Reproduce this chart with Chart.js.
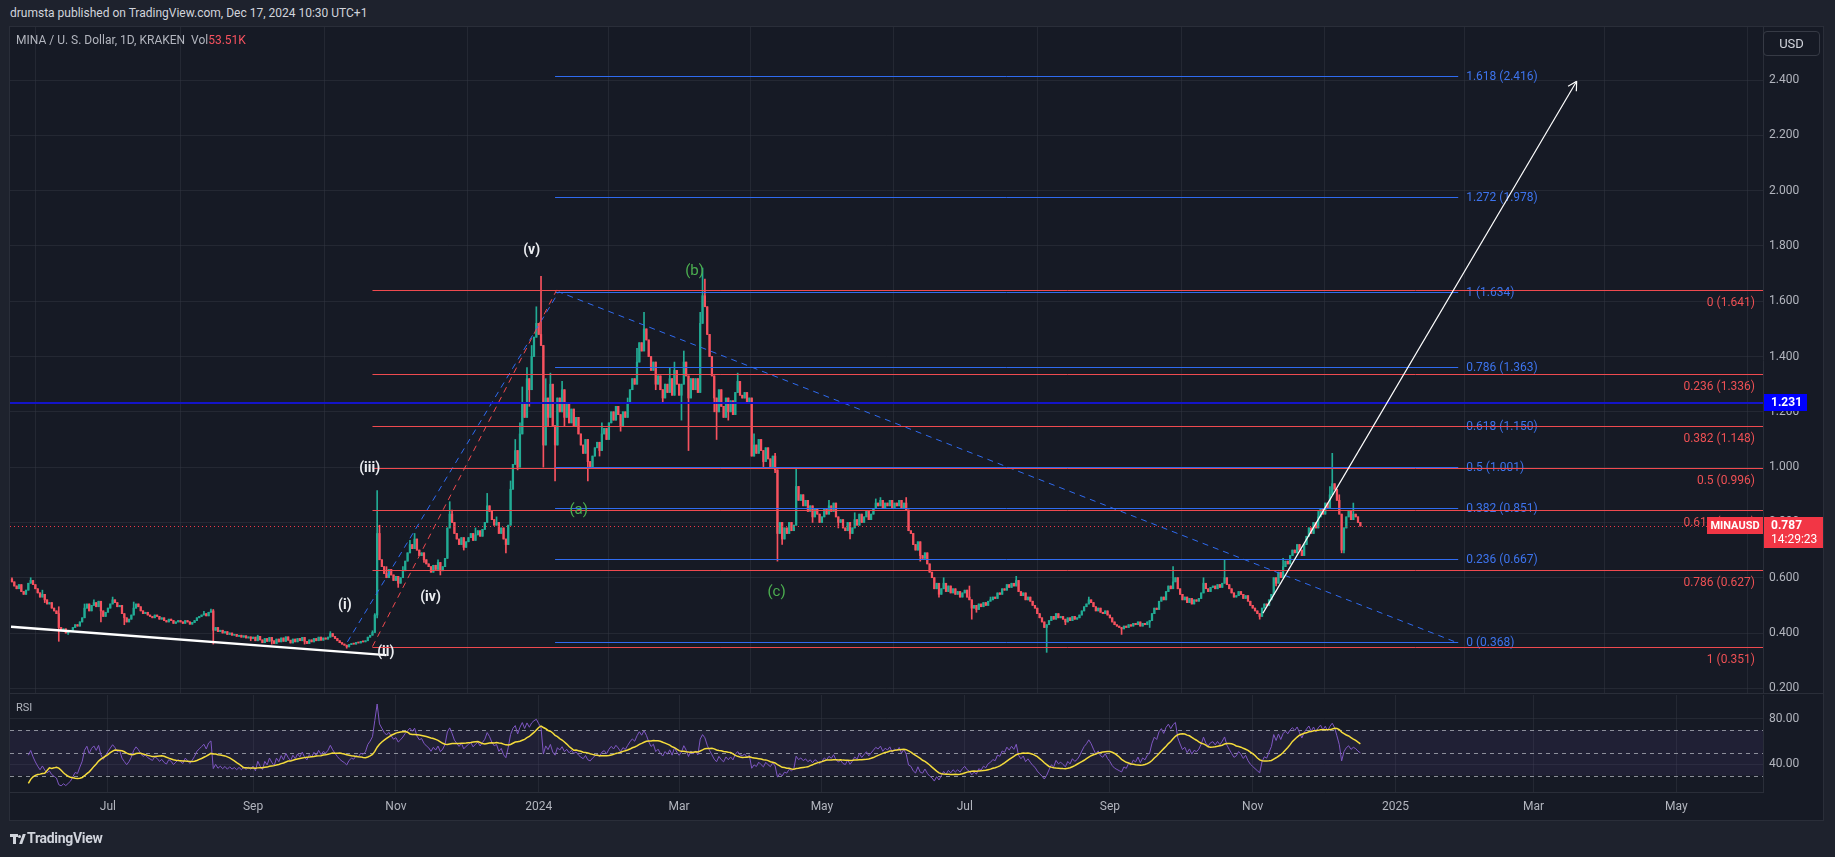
<!DOCTYPE html>
<html>
<head>
<meta charset="utf-8">
<title>MINAUSD</title>
<script src="https://cdn.jsdelivr.net/npm/chart.js@4.4.1/dist/chart.umd.min.js"></script>
<style>
  html, body { margin: 0; padding: 0; }
  body { width: 1835px; height: 857px; background: #1e222d; position: relative; overflow: hidden;
         font-family: Roboto, "Liberation Sans", Arial, sans-serif; }
  .abs { position: absolute; white-space: nowrap; }
  #frame { left: 9px; top: 26px; width: 1813px; height: 793px; border: 1px solid #2a2e39; background: #161a25; }
  #sep { left: 10px; top: 693px; width: 1813px; height: 1px; background: #2a2e39; }
  #hdr { left: 10px; top: 6px; font-size: 12px; color: #d1d4dc; }
  #legend { left: 16px; top: 33px; font-size: 12px; color: #b2b5be; }
  #legend .v { color: #f7525f; }
  #rsiLbl { left: 16px; top: 701px; font-size: 11px; color: #b2b5be; }
  #usd { left: 1763px; top: 31px; width: 57px; height: 25px; box-sizing: border-box; border: 1px solid #363a45;
         border-radius: 4px; color: #d1d4dc; font-size: 13px; text-align: center; line-height: 23px; }
  #logo { left: 27px; top: 830px; font-size: 14px; font-weight: bold; color: #d1d4dc; letter-spacing: -0.3px; }
  .lg { position: absolute; background: #d1d4dc; }
  canvas { position: absolute; }
</style>
</head>
<body>
<div id="frame" class="abs"></div>
<div id="hdr" class="abs">drumsta published on TradingView.com, Dec 17, 2024 10:30 UTC+1</div>
<canvas id="mainChart" width="1813" height="666" style="left:10px;top:27px;width:1813px;height:666px"></canvas>
<div id="sep" class="abs"></div>
<canvas id="rsiChart" width="1813" height="126" style="left:10px;top:694px;width:1813px;height:126px"></canvas>
<div id="legend" class="abs">MINA / U. S. Dollar, 1D, KRAKEN&nbsp;&nbsp;Vol<span class="v">53.51K</span></div>
<div id="rsiLbl" class="abs">RSI</div>
<div id="usd" class="abs">USD</div>
<div class="lg" style="left:10px;top:834px;width:8px;height:3px"></div>
<div class="lg" style="left:13px;top:834px;width:3px;height:10px"></div>
<div class="lg" style="left:18px;top:835px;width:3px;height:3px;border-radius:2px"></div>
<div class="lg" style="left:21px;top:834px;width:3px;height:10px;transform:skewX(-20deg)"></div>
<div id="logo" class="abs">TradingView</div>

<script>
// ---- daily closes (USD x 1000), May 21 2023 .. Dec 17 2024 ----
const closeMay23 = [585,570,560,575,550,540,555,580,590,575,560];
const closeJun23 = [545,530,540,520,505,510,490,480,470,420,410,415,400,405,410,420,430,425,440,455,490,505,480,500,510,495,515,480,460,475];
const closeJul23 = [490,505,520,510,495,500,470,455,440,450,465,490,505,495,480,470,475,465,460,455,465,460,450,455,445,440,450,445,435,440,445];
const closeAug23 = [440,435,445,440,432,438,445,455,460,465,470,462,475,480,410,420,405,410,400,405,395,400,392,395,388,392,385,390,382,386,380];
const closeSep23 = [385,372,388,375,365,380,370,384,372,362,378,368,382,370,386,374,364,378,368,380,372,384,370,362,375,368,380,372,385,374];
const closeOct23 = [382,378,385,398,388,380,372,365,360,356,350,358,362,360,366,364,370,368,372,385,392,402,465,760,665,640,615,600,630,610,590];
const closeNov23 = [605,580,600,625,660,690,720,705,740,700,680,690,665,650,640,620,645,630,655,625,640,670,780,830,800,760,740,720,745,710];
const closeDec23 = [730,745,760,735,755,770,750,775,800,860,840,810,790,800,760,780,740,720,790,920,1010,1060,1000,1120,1230,1180,1320,1280,1400,1470,1520];
const closeJan24 = [1480,1440,1080,1250,1180,1300,1150,1080,1250,1200,1280,1180,1230,1160,1210,1150,1180,1120,1080,1050,1100,1020,1000,1040,1070,1090,1060,1120,1140,1100,1160];
const closeFeb24 = [1200,1170,1220,1190,1150,1200,1180,1230,1280,1320,1300,1380,1450,1420,1500,1460,1400,1350,1380,1300,1330,1280,1250,1300,1270,1320,1260,1350,1300];
const closeMar24 = [1260,1300,1380,1330,1250,1320,1280,1320,1270,1520,1620,1580,1480,1400,1330,1250,1200,1280,1220,1180,1250,1200,1240,1190,1270,1310,1260,1250,1270,1230,1250];
const closeApr24 = [1040,1080,1050,1100,1060,1020,1070,1030,1000,1040,990,760,800,740,780,760,800,770,790,930,880,900,860,880,840,860,820,850,830,800];
const closeMay24 = [820,850,830,860,840,870,820,800,810,780,770,800,760,780,810,790,830,800,820,840,810,830,850,870,860,880,850,870,860,880,850];
const closeJun24 = [870,860,880,850,870,845,770,760,720,700,730,680,670,690,650,620,600,560,580,540,560,580,550,570,545,560,540,550,530,545];
const closeJul24 = [555,530,520,490,500,485,505,495,510,500,515,520,530,525,545,540,560,555,575,565,580,570,590,550,535,545,520,530,515,500,490];
const closeAug24 = [470,455,440,420,430,445,460,450,470,455,460,450,440,455,445,460,450,455,465,480,495,505,520,510,495,480,490,475,470,480,465];
const closeSep24 = [455,440,430,425,420,415,425,420,430,425,435,430,440,425,435,430,440,445,470,490,485,515,530,520,550,570,560,585,600,560];
const closeOct24 = [540,520,530,510,525,505,520,515,525,545,580,560,550,565,570,560,575,565,580,600,575,560,545,530,535,550,540,525,535,515,500];
const closeNov24 = [490,480,470,460,490,505,500,520,540,600,580,620,600,640,660,650,680,700,690,720,700,680,720,750,780,760,800,780,820,850];
const closeDec24 = [830,870,850,900,940,920,880,830,700,780,820,840,810,830,820,800,787];
const firstOpen = 595;

// notable wicks: [day index, price x 1000]
const wickHighs = [[0,600],[8,600],[13,555],[20,495],[31,505],[35,520],[43,530],[47,500],[52,512],[82,478],[85,487],[86,485],
  [105,392],[136,405],[154,408],[155,470],[156,915],[157,790],[160,640],[167,640],[170,735],[172,760],[182,665],[187,875],
  [188,845],[198,780],[203,905],[207,820],[213,950],[215,1100],[217,1160],[218,1290],[220,1360],[222,1440],[224,1580],
  [226,1690],[228,1320],[230,1340],[235,1310],[252,1160],[263,1250],[267,1430],[270,1560],[272,1450],[281,1360],[283,1380],
  [287,1420],[294,1560],[295,1720],[296,1680],[310,1340],[317,1120],[326,1050],[335,995],[349,880],[360,835],[369,885],
  [371,890],[382,890],[398,600],[409,570],[418,530],[429,605],[460,530],[496,640],[509,600],[518,665],[543,670],[558,840],
  [563,930],[564,1050],[567,900],[573,870]];
const wickLows = [[14,510],[20,370],[24,395],[38,440],[48,430],[86,360],[102,372],[111,360],[125,360],[143,345],[156,455],
  [165,565],[176,655],[183,610],[193,700],[211,690],[216,990],[221,1220],[227,1000],[229,1150],[232,950],[236,1150],
  [246,950],[251,1040],[260,1130],[275,1280],[278,1230],[286,1170],[289,1060],[300,1200],[301,1100],[306,1170],[321,1000],
  [326,980],[327,660],[329,720],[342,800],[353,780],[358,740],[388,660],[396,530],[410,450],[412,475],[442,330],[450,430],
  [474,395],[486,420],[533,450],[540,570],[568,690],[569,690]];

// axes
const xMin = -0.84, xMax = 748;
const monthTicks = [41, 103, 164, 225, 285, 346, 407, 469, 530, 591, 650, 711];
const monthLabels = ['Jul', 'Sep', 'Nov', '2024', 'Mar', 'May', 'Jul', 'Sep', 'Nov', '2025', 'Mar', 'May'];
const priceMin = 0.183, priceMax = 2.592;
const priceTicks = [0.2, 0.4, 0.6, 0.8, 1.0, 1.2, 1.4, 1.6, 1.8, 2.0, 2.2, 2.4];
const rsiMin = 15.6, rsiMax = 100.7;
const rsiTicks = [40, 80];
const rsiUpper = 70, rsiMid = 50, rsiLower = 30;
const rsiFirstShown = 7;

// drawings
const redFibLevels = [0, 0.236, 0.382, 0.5, 0.618, 0.786, 1];
const redFibPrices = [1.641, 1.336, 1.148, 0.996, 0.844, 0.627, 0.351];
const redFibFrom = 154;
const blueFibLevels = [0, 0.236, 0.382, 0.5, 0.618, 0.786, 1, 1.272, 1.618];
const blueFibPrices = [0.368, 0.667, 0.851, 1.001, 1.150, 1.363, 1.634, 1.978, 2.416];
const blueFibSpan = [232, 617.8];
const blueSwing = [[143.3, 0.368], [233.6, 1.634], [616.5, 0.368]];
const redSwing = [[154, 0.351], [232.7, 1.641]];
const trendLine = [[-0.4, 0.423], [160, 0.320]];
const arrowLine = [[534.4, 0.472], [668.4, 2.396]];
const alertPrice = 1.231;
const lastPrice = 0.787;
const waveText = ['(i)', '(ii)', '(iii)', '(iv)', '(v)'];
const wavePos = [[142.2, 0.499], [159.7, 0.329], [152.8, 0.995], [178.8, 0.528], [222, 1.785]];
const abcText = ['(a)', '(b)', '(c)'];
const abcPos = [[242.1, 0.845], [291.6, 1.709], [326.6, 0.549]];

const UP = '#22ab94', DOWN = '#f7525f';
const RED = '#ef4a4f', BLUE = '#2f6bf0', BLUE_TXT = '#3d74ee', RED_TXT = '#ee5054';
const GRID = 'rgba(54,58,69,0.45)';
const FONT = 'Roboto, "Liberation Sans", Arial, sans-serif';

// build candles
const closes = [].concat(closeMay23, closeJun23, closeJul23, closeAug23, closeSep23, closeOct23, closeNov23, closeDec23,
  closeJan24, closeFeb24, closeMar24, closeApr24, closeMay24, closeJun24, closeJul24, closeAug24, closeSep24, closeOct24,
  closeNov24, closeDec24).map(v => v / 1000);
const hiMap = {}, loMap = {};
wickHighs.forEach(([i, v]) => { hiMap[i] = v / 1000; });
wickLows.forEach(([i, v]) => { loMap[i] = v / 1000; });
const candles = closes.map((c, i) => {
  const o = i === 0 ? firstOpen / 1000 : closes[i - 1];
  const h = Math.max(o, c, hiMap[i] || 0);
  const l = Math.min(o, c, loMap[i] || 99);
  return { o, h, l, c };
});
const candleColors = candles.map(k => k.c >= k.o ? UP : DOWN);

// RSI 14 + its 14 SMA
const rsi = [null];
let avgG = 0, avgL = 0;
for (let i = 1; i < closes.length; i++) {
  const ch = closes[i] - closes[i - 1];
  const g = Math.max(ch, 0), l = Math.max(-ch, 0);
  if (i <= 14) { avgG = (avgG * (i - 1) + g) / i; avgL = (avgL * (i - 1) + l) / i; }
  else { avgG = (avgG * 13 + g) / 14; avgL = (avgL * 13 + l) / 14; }
  rsi.push(avgL === 0 ? 100 : 100 - 100 / (1 + avgG / avgL));
}
const rsiMa = rsi.map((v, i) => {
  if (i < 1) return null;
  const from = Math.max(1, i - 13);
  const win = rsi.slice(from, i + 1);
  return win.reduce((s, x) => s + x, 0) / win.length;
});

Chart.defaults.font.family = FONT;

function hline(ctx, x0, x1, y) {
  const yy = Math.round(y) + 0.5;
  ctx.beginPath(); ctx.moveTo(x0, yy); ctx.lineTo(x1, yy); ctx.stroke();
}
function polyline(ctx, pts) {
  ctx.beginPath();
  pts.forEach(([x, y], k) => k ? ctx.lineTo(x, y) : ctx.moveTo(x, y));
  ctx.stroke();
}
// keep the plot area flush with the canvas edges (no half-label padding)
function noPad(s) { s.paddingTop = 0; s.paddingBottom = 0; s.paddingLeft = 0; s.paddingRight = 0; }

const overlay = {
  id: 'overlay',
  afterDatasetsDraw(chart) {
    const { ctx, chartArea: a } = chart;
    const X = v => chart.scales.x.getPixelForValue(v);
    const Y = v => chart.scales.y.getPixelForValue(v);
    const P = ([i, p]) => [X(i), Y(p)];
    ctx.save();
    ctx.beginPath(); ctx.rect(a.left, a.top, a.right - a.left, a.bottom - a.top); ctx.clip();
    ctx.font = '12px ' + FONT;

    // trend based fib extension (blue)
    const bx0 = X(blueFibSpan[0]), bx1 = X(blueFibSpan[1]);
    ctx.strokeStyle = BLUE; ctx.lineWidth = 1;
    blueFibPrices.forEach(p => hline(ctx, bx0, bx1, Y(p)));
    ctx.fillStyle = BLUE_TXT; ctx.textAlign = 'left'; ctx.textBaseline = 'middle';
    blueFibPrices.forEach((p, k) => ctx.fillText(blueFibLevels[k] + ' (' + p.toFixed(3) + ')', bx1 + 8, Y(p) + 1));
    ctx.setLineDash([6, 5]);
    ctx.strokeStyle = BLUE;
    polyline(ctx, blueSwing.map(P));
    ctx.strokeStyle = RED;
    polyline(ctx, redSwing.map(P));
    ctx.setLineDash([]);

    // fib retracement (red)
    const rx0 = X(redFibFrom);
    ctx.strokeStyle = RED;
    redFibPrices.forEach(p => hline(ctx, rx0, a.right, Y(p)));
    ctx.fillStyle = RED_TXT; ctx.textAlign = 'right';
    redFibPrices.forEach((p, k) => ctx.fillText(redFibLevels[k] + ' (' + p.toFixed(3) + ')', a.right - 8, Y(p) + 13));

    // alert level
    ctx.strokeStyle = '#1414c8'; ctx.lineWidth = 2;
    const ay = Math.round(Y(alertPrice));
    ctx.beginPath(); ctx.moveTo(a.left, ay); ctx.lineTo(a.right, ay); ctx.stroke();

    // last price
    ctx.strokeStyle = '#f23645'; ctx.lineWidth = 1; ctx.setLineDash([1, 3]);
    hline(ctx, a.left, a.right, Y(lastPrice));
    ctx.setLineDash([]);

    // white trend line
    ctx.strokeStyle = '#ffffff'; ctx.lineWidth = 2.5;
    polyline(ctx, trendLine.map(P));

    // arrow
    const [p0, p1] = arrowLine.map(P);
    ctx.lineWidth = 1.2;
    polyline(ctx, [p0, p1]);
    const ang = Math.atan2(p1[1] - p0[1], p1[0] - p0[0]);
    [0.5, -0.5].forEach(d => {
      polyline(ctx, [p1, [p1[0] - 10 * Math.cos(ang + d), p1[1] - 10 * Math.sin(ang + d)]]);
    });

    // wave labels
    ctx.textAlign = 'center'; ctx.textBaseline = 'middle';
    ctx.font = 'bold 14px ' + FONT; ctx.fillStyle = '#eceef2';
    wavePos.forEach((pt, k) => { const [x, y] = P(pt); ctx.fillText(waveText[k], x, y); });
    ctx.font = '15px ' + FONT; ctx.fillStyle = '#4caf50';
    abcPos.forEach((pt, k) => { const [x, y] = P(pt); ctx.fillText(abcText[k], x, y); });

    // symbol tag on the last price
    const ly = Y(lastPrice);
    ctx.fillStyle = '#f23645';
    ctx.fillRect(a.right - 56, Math.round(ly) - 9, 56, 17);
    ctx.fillStyle = '#ffffff'; ctx.font = 'bold 11px ' + FONT;
    ctx.fillText('MINAUSD', a.right - 28, ly);
    ctx.restore();
  },
  afterDraw(chart) {
    const { ctx, chartArea: a } = chart;
    const Y = v => chart.scales.y.getPixelForValue(v);
    ctx.save();
    ctx.textAlign = 'left'; ctx.textBaseline = 'middle';
    const ay = Y(alertPrice);
    ctx.fillStyle = '#0000ff';
    ctx.fillRect(a.right + 1, Math.round(ay) - 9, 43, 17);
    ctx.fillStyle = '#ffffff'; ctx.font = 'bold 12px ' + FONT;
    ctx.fillText(alertPrice.toFixed(3), a.right + 8, ay);
    const ly = Math.round(Y(lastPrice)) - 9;
    ctx.fillStyle = '#f23645';
    ctx.fillRect(a.right + 1, ly, 60, 31);
    ctx.fillStyle = '#ffffff';
    ctx.fillText(lastPrice.toFixed(3), a.right + 8, ly + 9);
    ctx.font = '12px ' + FONT;
    ctx.fillText('14:29:23', a.right + 8, ly + 23);
    ctx.restore();
  }
};

new Chart(document.getElementById('mainChart'), {
  type: 'bar',
  data: {
    datasets: [
      {
        label: 'wick',
        data: candles.map((k, i) => ({ x: i, y: [k.l, k.h] })),
        backgroundColor: candleColors,
        barThickness: 1,
        grouped: false,
        order: 2
      },
      {
        label: 'body',
        data: candles.map((k, i) => ({ x: i, y: [k.o, k.c] })),
        backgroundColor: candleColors,
        barThickness: 1.6,
        minBarLength: 1,
        grouped: false,
        order: 1
      }
    ]
  },
  options: {
    responsive: false,
    animation: false,
    events: [],
    layout: { padding: 0 },
    plugins: { legend: { display: false }, tooltip: { enabled: false } },
    scales: {
      x: {
        type: 'linear', min: xMin, max: xMax, offset: false,
        afterBuildTicks: s => { s.ticks = monthTicks.map(v => ({ value: v })); },
        ticks: { display: false, autoSkip: false },
        grid: { color: GRID, drawTicks: false },
        border: { display: false },
        afterFit: s => { s.height = 0; noPad(s); }
      },
      y: {
        position: 'right', min: priceMin, max: priceMax,
        afterBuildTicks: s => { s.ticks = priceTicks.map(v => ({ value: v })); },
        ticks: { color: '#b2b5be', font: { size: 12 }, padding: 6, callback: v => Number(v).toFixed(3), autoSkip: false },
        grid: { color: GRID, drawTicks: false },
        border: { display: true, color: '#2a2e39' },
        afterFit: s => { s.width = 60; noPad(s); }
      }
    }
  },
  plugins: [overlay]
});

const rsiBands = {
  id: 'rsiBands',
  beforeDatasetsDraw(chart) {
    const { ctx, chartArea: a } = chart;
    const Y = v => chart.scales.y.getPixelForValue(v);
    ctx.save();
    ctx.fillStyle = 'rgba(126,87,194,0.10)';
    ctx.fillRect(a.left, Y(rsiUpper), a.right - a.left, Y(rsiLower) - Y(rsiUpper));
    ctx.strokeStyle = 'rgba(178,181,190,0.75)'; ctx.lineWidth = 1; ctx.setLineDash([4, 4]);
    [rsiUpper, rsiMid, rsiLower].forEach(v => hline(ctx, a.left, a.right, Y(v)));
    ctx.restore();
  }
};

new Chart(document.getElementById('rsiChart'), {
  type: 'line',
  data: {
    datasets: [
      {
        label: 'RSI',
        data: rsi.map((v, i) => ({ x: i, y: i < rsiFirstShown ? null : v })),
        borderColor: '#7e57c2', borderWidth: 1, pointRadius: 0, tension: 0, order: 2
      },
      {
        label: 'RSI-based MA',
        data: rsiMa.map((v, i) => ({ x: i, y: i < rsiFirstShown ? null : v })),
        borderColor: '#f5dc3c', borderWidth: 1.5, pointRadius: 0, tension: 0, order: 1
      }
    ]
  },
  options: {
    responsive: false,
    animation: false,
    events: [],
    layout: { padding: { top: 1 } },
    plugins: { legend: { display: false }, tooltip: { enabled: false } },
    scales: {
      x: {
        type: 'linear', min: xMin, max: xMax,
        afterBuildTicks: s => { s.ticks = monthTicks.map(v => ({ value: v })); },
        ticks: { color: '#b2b5be', font: { size: 12 }, padding: 8, maxRotation: 0, autoSkip: false,
                 callback: v => monthLabels[monthTicks.indexOf(v)] },
        grid: { color: GRID, drawTicks: false },
        border: { display: true, color: '#2a2e39' },
        afterFit: s => { s.height = 28; noPad(s); }
      },
      y: {
        position: 'right', min: rsiMin, max: rsiMax,
        afterBuildTicks: s => { s.ticks = rsiTicks.map(v => ({ value: v })); },
        ticks: { color: '#b2b5be', font: { size: 12 }, padding: 6, callback: v => Number(v).toFixed(2) },
        grid: { color: GRID, drawTicks: false },
        border: { display: true, color: '#2a2e39' },
        afterFit: s => { s.width = 60; noPad(s); }
      }
    }
  },
  plugins: [rsiBands]
});
</script>
</body>
</html>
